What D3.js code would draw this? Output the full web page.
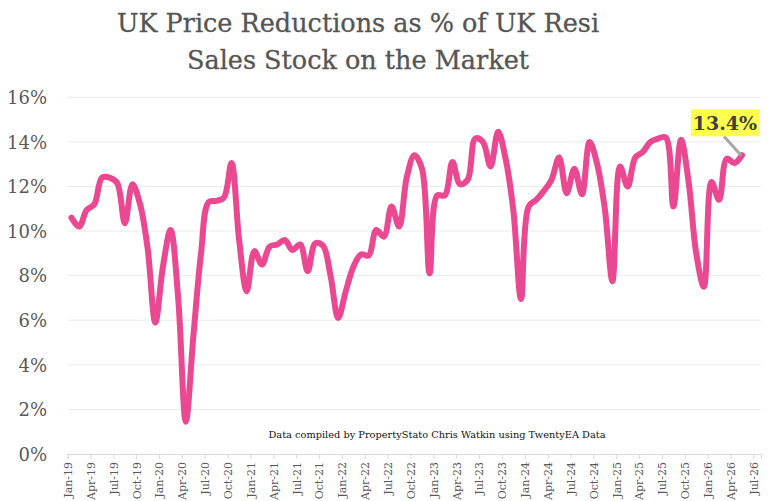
<!DOCTYPE html>
<html>
<head>
<meta charset="utf-8">
<script src="https://cdn.jsdelivr.net/npm/d3@7"></script>
<style>
  body { margin: 0; background: #fff; }
  text { font-family: "DejaVu Serif", serif; }
</style>
</head>
<body>
<svg id="chart" width="771" height="501"></svg>
<script>
// monthly readings, Jan-19 .. May-26 (plotted mid-month)
var startYear = 2019;
var values = [
  10.6, 10.2, 10.95, 11.2, 12.4, 12.4, 12.15, 10.35, 12.1, 11.2, 9.2, 5.9,
  8.4, 10.05, 7.0, 1.45, 5.3, 9.0, 11.3, 11.35, 11.5, 13.05, 9.6, 7.3,
  9.1, 8.5, 9.3, 9.4, 9.6, 9.15, 9.4, 8.2, 9.45, 9.35, 8.0, 6.1,
  7.3, 8.4, 8.95, 8.9, 10.05, 9.75, 11.1, 10.2, 12.4, 13.4, 12.8, 8.1,
  11.6, 11.6, 13.1, 12.1, 12.3, 14.15, 14.0, 12.9, 14.45, 13.2, 10.9, 6.95,
  11.1, 11.4, 11.8, 12.3, 13.3, 11.7, 12.8, 11.65, 14.0, 13.0, 11.0, 7.75,
  12.9, 12.0, 13.3, 13.55, 14.0, 14.15, 14.2, 11.1, 14.1, 12.2, 9.0, 7.5,
  12.2, 11.4, 13.25, 13.05, 13.4
];
var yTicks = [0, 2, 4, 6, 8, 10, 12, 14, 16];
var monthNames = ["Jan","Apr","Jul","Oct"];
var lastLabel = "13.4%";
var title = ["UK Price Reductions as % of UK Resi", "Sales Stock on the Market"];
var note = "Data compiled by PropertyStato Chris Watkin using TwentyEA Data";

var svg = d3.select("#chart");
var plotL = 67.7, plotR = 761, plotT = 97.3, plotB = 454;
var months = 91;

var x = d3.scaleLinear().domain([0, months]).range([plotL, plotR]);
var y = d3.scaleLinear().domain([0, 16]).range([plotB, plotT]);

// title
svg.selectAll(".title").data(title).enter().append("text")
  .attr("x", 358).attr("y", function(d,i){ return 32 + i*37; })
  .attr("text-anchor", "middle")
  .attr("font-size", 25.5)
  .attr("fill", "#555")
  .attr("stroke", "#555").attr("stroke-width", 0.3)
  .text(function(d){ return d; });

// grid
svg.append("g").selectAll("line").data(yTicks.slice(1)).enter().append("line")
  .attr("x1", plotL).attr("x2", plotR)
  .attr("y1", function(d){ return y(d); }).attr("y2", function(d){ return y(d); })
  .attr("stroke", "#ebebeb").attr("stroke-width", 1);

// y axis labels
var yAxis = d3.axisLeft(y).tickValues(yTicks).tickSize(0).tickPadding(0)
  .tickFormat(function(d){ return d + "%"; });
var yg = svg.append("g").attr("transform", "translate(47,0)").call(yAxis);
yg.select(".domain").remove();
yg.selectAll("text").attr("font-size", 18).attr("fill", "#595959")
  .attr("font-family", "DejaVu Serif").attr("dy", "0.35em");

// x axis
var qTicks = d3.range(0, months, 3);
var xAxis = d3.axisBottom(x).tickValues(qTicks).tickSize(5).tickPadding(4)
  .tickFormat(function(d){
    var yr = startYear + Math.floor(d / 12);
    return monthNames[(d % 12) / 3] + "-" + String(yr).slice(2);
  });
var xg = svg.append("g").attr("transform", "translate(0," + plotB + ")").call(xAxis);
xg.select(".domain").attr("stroke", "#d9d9d9");
xg.selectAll(".tick line").attr("stroke", "#d9d9d9");
xg.selectAll("text")
  .attr("font-size", 11).attr("fill", "#595959").attr("font-family", "DejaVu Serif")
  .attr("transform", "rotate(-90)")
  .attr("text-anchor", "end")
  .attr("x", -8).attr("y", 0).attr("dy", "0.35em");

// note
svg.append("text").attr("x", 437).attr("y", 438)
  .attr("text-anchor", "middle").attr("font-size", 9.8).attr("fill", "#111")
  .text(note);

// line
var line = d3.line()
  .x(function(d,i){ return x(i + 0.5); })
  .y(function(d){ return y(d); })
  .curve(d3.curveCatmullRom.alpha(0.5));
svg.append("path").datum(values)
  .attr("d", line)
  .attr("fill", "none")
  .attr("stroke", "#ea4891")
  .attr("stroke-width", 6)
  .attr("stroke-linejoin", "round")
  .attr("stroke-linecap", "round");

// callout
var li = values.length - 1;
var lx = x(li + 0.5), ly = y(values[li]);
svg.append("line")
  .attr("x1", lx - 1).attr("y1", ly)
  .attr("x2", lx - 18).attr("y2", ly - 19)
  .attr("stroke", "#a6a6a6").attr("stroke-width", 3);
svg.append("rect")
  .attr("x", lx - 51).attr("y", ly - 46).attr("width", 68).attr("height", 27)
  .attr("fill", "#ffff4d");
svg.append("text")
  .attr("x", lx - 17).attr("y", ly - 25.5)
  .attr("text-anchor", "middle").attr("font-size", 19).attr("font-weight", "bold")
  .attr("fill", "#404040")
  .text(lastLabel);
</script>
</body>
</html>
